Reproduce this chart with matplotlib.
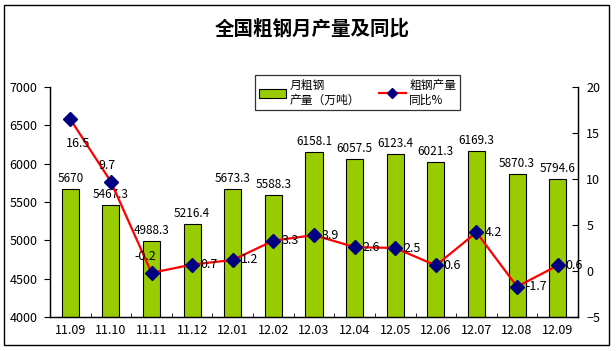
import matplotlib
matplotlib.use("Agg")
import matplotlib.pyplot as plt
from matplotlib.patches import Rectangle
from matplotlib.lines import Line2D
from matplotlib.patches import Patch
import numpy as np

plt.rcParams['font.family'] = ['Noto Sans CJK SC', 'DejaVu Sans']

months = ["11.09", "11.10", "11.11", "11.12", "12.01", "12.02", "12.03",
          "12.04", "12.05", "12.06", "12.07", "12.08", "12.09"]
output = [5670, 5467.3, 4988.3, 5216.4, 5673.3, 5588.3, 6158.1,
          6057.5, 6123.4, 6021.3, 6169.3, 5870.3, 5794.6]
yoy = [16.5, 9.7, -0.2, 0.7, 1.2, 3.3, 3.9, 2.6, 2.5, 0.6, 4.2, -1.7, 0.6]
output_labels = ["5670", "5467.3", "4988.3", "5216.4", "5673.3", "5588.3", "6158.1",
                 "6057.5", "6123.4", "6021.3", "6169.3", "5870.3", "5794.6"]
yoy_labels = ["16.5", "9.7", "-0.2", "0.7", "1.2", "3.3", "3.9", "2.6", "2.5",
              "0.6", "4.2", "-1.7", "0.6"]
title = "全国粗钢月产量及同比"
bar_name = "月粗钢\n产量（万吨）"
line_name = "粗钢产量\n同比%"

W, H = 616, 351
fig = plt.figure(figsize=(W / 100, H / 100), dpi=100)
fig.patch.set_facecolor("white")

# outer border
fig.patches.append(Rectangle((4 / W, 1 - 345 / H), 605 / W, 340 / H,
                             transform=fig.transFigure, fill=False,
                             edgecolor="black", linewidth=1.0))

ax = fig.add_axes([50 / W, 1 - 317 / H, 528 / W, 230 / H])
x = np.arange(len(months))
ax.bar(x, output, width=0.42, color="#99CC00", edgecolor="black", linewidth=0.8,
       zorder=2)
ax.set_ylim(4000, 7000)
ax.set_yticks(np.arange(4000, 7001, 500))
ax.set_xlim(-0.5, len(months) - 0.5)
ax.set_xticks(x)
ax.set_xticklabels(months, fontsize=9)
ax.set_xticks(np.arange(-0.5, len(months), 1), minor=True)
ax.tick_params(axis='x', which='major', length=0, pad=5)
ax.tick_params(axis='x', which='minor', length=3, direction='in')
ax.tick_params(axis='y', which='major', length=4, direction='out', labelsize=9, pad=5)
ax.spines['top'].set_visible(False)
for s in ax.spines.values():
    s.set_linewidth(0.9)

for xi, v, lab in zip(x, output, output_labels):
    ax.annotate(lab, (xi, v), xytext=(0, 4), textcoords='offset pixels',
                ha='center', va='bottom', fontsize=8.5, zorder=5)

ax2 = ax.twinx()
ax2.plot(x, yoy, color="red", linewidth=1.6, marker='D', markersize=7,
         markerfacecolor="#000080", markeredgecolor="#000080", zorder=4)
ax2.set_ylim(-5, 20)
ax2.set_yticks(np.arange(-5, 21, 5))
ax2.tick_params(axis='y', length=4, direction='in', labelsize=9, pad=6)
ax2.spines['top'].set_visible(False)
for s in ax2.spines.values():
    s.set_linewidth(0.9)

special = {0: (8, -24, 'center'), 1: (-4, 16, 'center'), 2: (-6, 16, 'center')}
for i, (xi, v, lab) in enumerate(zip(x, yoy, yoy_labels)):
    dx, dy, ha = special.get(i, (8, 0, 'left'))
    ax2.annotate(lab, (xi, v), xytext=(dx, dy), textcoords='offset pixels',
                 ha=ha, va='center', fontsize=9, zorder=6)

fig.text(312 / W, 1 - 29 / H, title, ha='center', va='center', fontsize=14,
         fontweight='bold')

handles = [Patch(facecolor="#99CC00", edgecolor="black", linewidth=0.8),
           Line2D([0], [0], color='red', linewidth=1.6, marker='D', markersize=5,
                  markerfacecolor="#000080", markeredgecolor="#000080")]
leg = fig.legend(handles, [bar_name, line_name], ncol=2,
                 loc='upper left', bbox_to_anchor=(255 / W, 1 - 75 / H),
                 borderaxespad=0,
                 fontsize=8.5, frameon=True, fancybox=False, edgecolor='black',
                 borderpad=0.3, handlelength=2.3, handletextpad=0.3,
                 columnspacing=1.6, labelspacing=0.1)
leg.get_frame().set_linewidth(0.9)

fig.savefig("out.png", dpi=100, facecolor="white")
